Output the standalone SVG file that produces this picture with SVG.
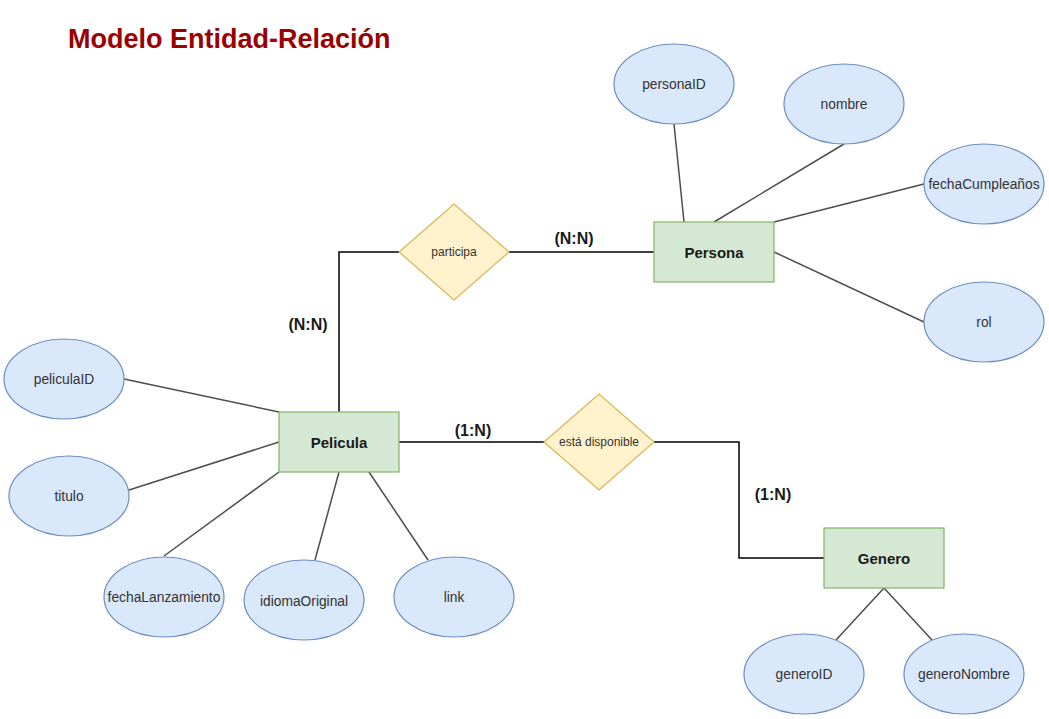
<svg xmlns="http://www.w3.org/2000/svg" width="1049" height="719" viewBox="0 0 1049 719">
<style>
.ent{fill:#d5e8d4;stroke:#82b366;stroke-width:1.2}
.att{fill:#dae8fc;stroke:#6c8ebf;stroke-width:1.2}
.rel{fill:#fff2cc;stroke:#d6b656;stroke-width:1.2}
.al{stroke:#4d4d4d;stroke-width:1.5;fill:none}
.rl{stroke:#000;stroke-width:1.5;fill:none}
text{font-family:"Liberation Sans",Arial,sans-serif;fill:#1a1a1a;text-anchor:middle;dominant-baseline:central}
.et{font-weight:bold;font-size:15px}
.at{font-size:13.8px;fill:#333}
.rt{font-size:12px;fill:#333}
.card{font-weight:bold;font-size:16px}
.title{font-weight:bold;font-size:27px;fill:#990000;text-anchor:start;dominant-baseline:alphabetic}
</style>
<rect width="1049" height="719" fill="#fff"/>
<text class="title" x="68" y="48">Modelo Entidad-Relación</text>
<g id="connectors">
<line class="al" x1="674" y1="124" x2="684" y2="222"/>
<line class="al" x1="844" y1="144" x2="714" y2="222"/>
<line class="al" x1="924" y1="184" x2="774" y2="222"/>
<line class="al" x1="924" y1="322" x2="774" y2="252"/>
<line class="al" x1="124" y1="379" x2="279" y2="412"/>
<line class="al" x1="129" y1="490" x2="279" y2="442"/>
<line class="al" x1="164" y1="556" x2="279" y2="472"/>
<line class="al" x1="315" y1="560" x2="339" y2="472"/>
<line class="al" x1="428" y1="560" x2="369" y2="472"/>
<line class="al" x1="884" y1="588" x2="836" y2="640"/>
<line class="al" x1="884" y1="588" x2="932" y2="640"/>
<polyline class="rl" points="339,412 339,252 399,252"/>
<line class="rl" x1="509" y1="252" x2="654" y2="252"/>
<line class="rl" x1="399" y1="442" x2="544" y2="442"/>
<polyline class="rl" points="654,442 739,442 739,558 824,558"/>
<text class="card" x="574" y="238">(N:N)</text>
<text class="card" x="308" y="324">(N:N)</text>
<text class="card" x="473" y="430">(1:N)</text>
<text class="card" x="773" y="494">(1:N)</text>
</g>
<g id="persona"><rect class="ent" x="654" y="222" width="120" height="60"/><text class="et" x="714" y="252">Persona</text></g>
<g id="pelicula"><rect class="ent" x="279" y="412" width="120" height="60"/><text class="et" x="339" y="442">Pelicula</text></g>
<g id="genero"><rect class="ent" x="824" y="528" width="120" height="60"/><text class="et" x="884" y="558">Genero</text></g>
<g id="participa"><polygon class="rel" points="399,252 454,204 509,252 454,300"/><text class="rt" x="454" y="252">participa</text></g>
<g id="disponible"><polygon class="rel" points="544,442 599,394 654,442 599,490"/><text class="rt" x="599" y="442">está disponible</text></g>
<g id="personaID"><ellipse class="att" cx="674" cy="84" rx="60" ry="40"/><text class="at" x="674" y="84">personaID</text></g>
<g id="nombre"><ellipse class="att" cx="844" cy="104" rx="60" ry="40"/><text class="at" x="844" y="104">nombre</text></g>
<g id="fechaCumpleanos"><ellipse class="att" cx="984" cy="184" rx="60" ry="40"/><text class="at" x="984" y="184">fechaCumpleaños</text></g>
<g id="rol"><ellipse class="att" cx="984" cy="322" rx="60" ry="40"/><text class="at" x="984" y="322">rol</text></g>
<g id="peliculaID"><ellipse class="att" cx="64" cy="379" rx="60" ry="40"/><text class="at" x="64" y="379">peliculaID</text></g>
<g id="titulo"><ellipse class="att" cx="69" cy="496" rx="60" ry="40"/><text class="at" x="69" y="496">titulo</text></g>
<g id="fechaLanzamiento"><ellipse class="att" cx="164" cy="597" rx="60" ry="40"/><text class="at" x="164" y="597">fechaLanzamiento</text></g>
<g id="idiomaOriginal"><ellipse class="att" cx="304" cy="600" rx="60" ry="40"/><text class="at" x="304" y="601">idiomaOriginal</text></g>
<g id="link"><ellipse class="att" cx="454" cy="597" rx="60" ry="40"/><text class="at" x="454" y="597">link</text></g>
<g id="generoID"><ellipse class="att" cx="804" cy="674" rx="60" ry="40"/><text class="at" x="804" y="674">generoID</text></g>
<g id="generoNombre"><ellipse class="att" cx="964" cy="674" rx="60" ry="40"/><text class="at" x="964" y="674">generoNombre</text></g>
</svg>
